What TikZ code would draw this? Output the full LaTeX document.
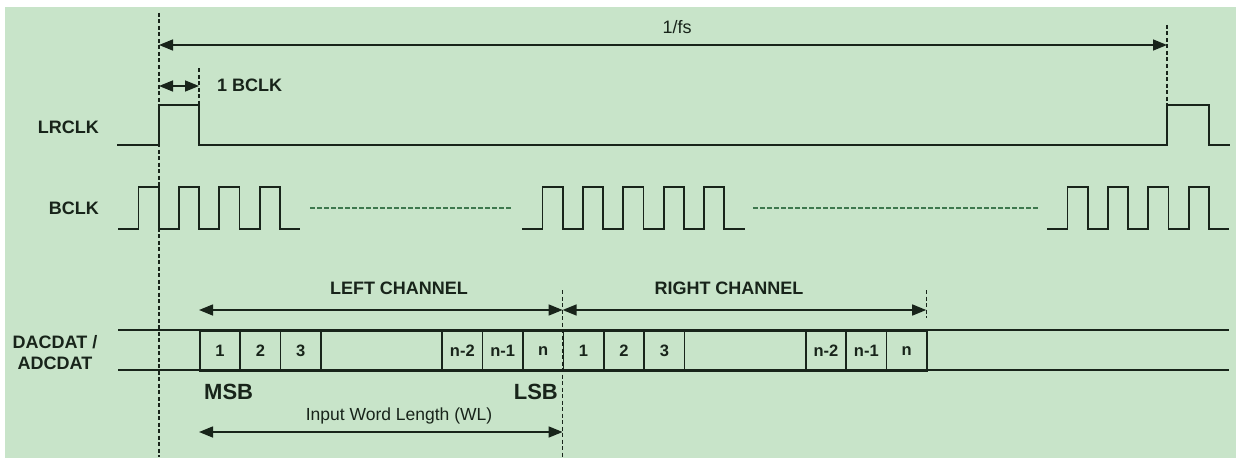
\documentclass[tikz,border=0pt]{standalone}
\usepackage{fontspec}
\setmainfont{Liberation Sans}
\usetikzlibrary{arrows.meta}

\definecolor{bggreen}{RGB}{200,228,201}
\definecolor{ink}{RGB}{24,36,26}
\definecolor{fillgreen}{RGB}{62,120,78}

\tikzset{
  sig/.style={draw=ink, line width=1.8pt},
  guide/.style={draw=ink, line width=1.2pt, dash pattern=on 4pt off 2.5pt},
  filler/.style={draw=fillgreen, line width=1.8pt, dash pattern=on 5pt off 2pt},
  dim/.style={draw=ink, line width=1.5pt,
    {Triangle[length=14pt,width=11pt]}-{Triangle[length=14pt,width=11pt]}},
  lbl/.style={font=\bfseries\fontsize{18}{21}\selectfont, text=ink, inner sep=0pt},
  cell/.style={draw=ink, line width=1.5pt, minimum height=40pt, inner sep=0pt,
    anchor=north west, font=\bfseries\fontsize{16.5}{18}\selectfont, text=ink},
}

\begin{document}
\begin{tikzpicture}[x=1pt,y=-1pt]
\useasboundingbox (0,0) rectangle (1241,460);
\fill[bggreen] (5,7) rectangle (1236,458);

% frame start / end and channel borders
\coordinate (fsA) at (159,13);
\coordinate (fsAbot) at (159,457);
\coordinate (fsB) at (1167,25);
\coordinate (fsBbot) at (1167,105);
\coordinate (bitA) at (199,68);
\coordinate (bitAbot) at (199,105);
\coordinate (midA) at (562.6,290);
\coordinate (midAbot) at (562.6,457);
\coordinate (endA) at (926.2,290);
\coordinate (endAbot) at (926.2,318);

\draw[guide] (fsA) -- (fsAbot);
\draw[guide] (fsB) -- (fsBbot);
\draw[guide] (bitA) -- (bitAbot);
\draw[guide] (midA) -- (midAbot);
\draw[guide] (endA) -- (endAbot);

% LRCLK
\draw[sig] (117,145) -- (159,145) -- (159,105) -- (199,105) -- (199,145)
  -- (1167,145) -- (1167,105) -- (1209,105) -- (1209,145) -- (1230,145);

% BCLK
\foreach \xs/\np in {118/4,522/5,1047/4}
  \draw[sig] (\xs,229) -- ++(20.5,0)
    \foreach \i in {1,...,\np}{ -- ++(0,-42) -- ++(20.2,0) -- ++(0,42) -- ++(20.2,0)};
\draw[filler] (310,208) -- (512,208);
\draw[filler] (753,208) -- (1038,208);

% data bus
\draw[sig, line width=1.5pt] (118,330) -- (1229,330) (118,370) -- (1229,370);
\foreach \ch/\xs in {L/199,R/562.6}{
  \foreach \k/\cw/\t/\nm in {0/1/1/a,1/1/2/b,2/1/3/c,3/3/{}/d,6/1/n-2/e,7/1/n-1/f,8/1/n/g}
    \node[cell, minimum width=\cw*40.4pt] (\ch\nm) at (\xs+\k*40.4,330) {\t};
}

% dimensions
\coordinate (fsL) at (159,45);
\coordinate (fsR) at (1167,45);
\coordinate (bcL) at (159,86);
\coordinate (bcR) at (199,86);
\coordinate (lcL) at (199,310);
\coordinate (lcR) at (562.6,310);
\coordinate (rcR) at (926.2,310);
\coordinate (wlL) at (199,432);
\coordinate (wlR) at (562.6,432);

\draw[dim] (fsL) -- (fsR);
\draw[dim] (bcL) -- (bcR);
\draw[dim] (lcL) -- (lcR);
\draw[dim] (lcR) -- (rcR);
\draw[dim] (wlL) -- (wlR);

% labels
\node[lbl, anchor=east] (lrclk) at (99,127) {LRCLK};
\node[lbl, anchor=east] (bclk) at (99,208) {BCLK};
\node[lbl, align=center] (dat) at (55,353) {DACDAT /\\ADCDAT};
\node[font=\fontsize{18}{20}\selectfont, text=ink] (fs) at (677,27) {1/fs};
\node[lbl, anchor=west] (onebclk) at (217,85) {1 BCLK};
\node[lbl] (leftch) at (399,288) {LEFT CHANNEL};
\node[lbl] (rightch) at (729,288) {RIGHT CHANNEL};
\node[lbl, font=\bfseries\fontsize{22}{24}\selectfont, anchor=west] (msb) at (204,392) {MSB};
\node[lbl, font=\bfseries\fontsize{22}{24}\selectfont, anchor=east] (lsb) at (558,392) {LSB};
\node[font=\fontsize{17.5}{20}\selectfont, text=ink] (wl) at (399,416) {Input Word Length (WL)};
\end{tikzpicture}
\end{document}
